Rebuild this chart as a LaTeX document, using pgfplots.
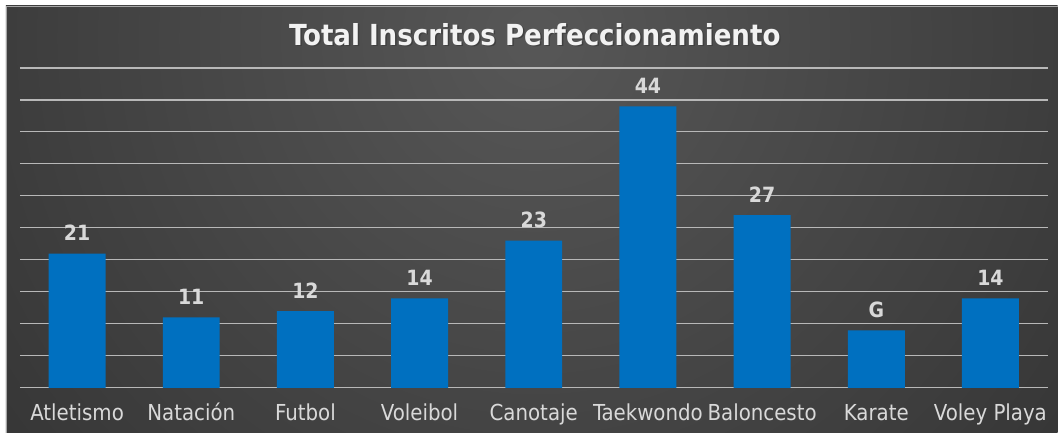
\documentclass[border=0pt]{standalone}
\usepackage{pgfplots}
\pgfplotsset{compat=1.18}
\usepackage{fontspec}
\setmainfont{DejaVu Sans Condensed}
\definecolor{barblue}{HTML}{0070C0}
\definecolor{lbl}{HTML}{D9D9D9}
\definecolor{bgin}{HTML}{575757}
\definecolor{bgout}{HTML}{1C1C1C}
\begin{document}
\begin{tikzpicture}
\fill[white] (-20pt,-45pt) rectangle (1038pt,388pt);
\begin{scope}
\clip (-14pt,-45pt) rectangle (1038pt,382pt);
\shade[inner color=bgin, outer color=bgout] (515pt,350pt) circle (1200pt);
\end{scope}
\draw[gray!70, line width=0.8pt] (-14pt,-45pt) -- (-14pt,382pt) -- (1038pt,382pt);
\begin{axis}[
  at={(0pt,0pt)}, anchor=south west,
  scale only axis, width=1028pt, height=320pt,
  xmin=-0.5, xmax=8.5, ymin=0, ymax=50,
  ytick={0,5,...,50}, yticklabels={},
  ymajorgrids, major grid style={color=lbl!85!black, line width=1.1pt},
  axis line style={draw=none}, major tick length=0pt,
  xtick={0,...,8},
  xticklabels={Atletismo,Natación,Futbol,Voleibol,Canotaje,Taekwondo,Baloncesto,Karate,Voley Playa},
  xticklabel style={font=\fontsize{22}{22}\selectfont, text=lbl, text height=16pt, text depth=4pt, yshift=-13pt},
  ybar, bar width=57pt,
  clip=false,
]
\addplot[fill=barblue, draw=none,
  nodes near coords, point meta=explicit symbolic,
  nodes near coords style={font=\bfseries\fontsize{21}{21}\selectfont, text=lbl, yshift=9pt}]
coordinates {(0,21) [21] (1,11) [11] (2,12) [12] (3,14) [14] (4,23) [23] (5,44) [44] (6,27) [27] (7,9) [G] (8,14) [14]};
\end{axis}
\node[text=black!75, font=\bfseries\fontsize{29}{29}\selectfont] at (516.5pt,352pt) {Total Inscritos Perfeccionamiento};
\node[text=white!95!black, font=\bfseries\fontsize{29}{29}\selectfont] at (515pt,353.5pt) {Total Inscritos Perfeccionamiento};
\end{tikzpicture}
\end{document}
